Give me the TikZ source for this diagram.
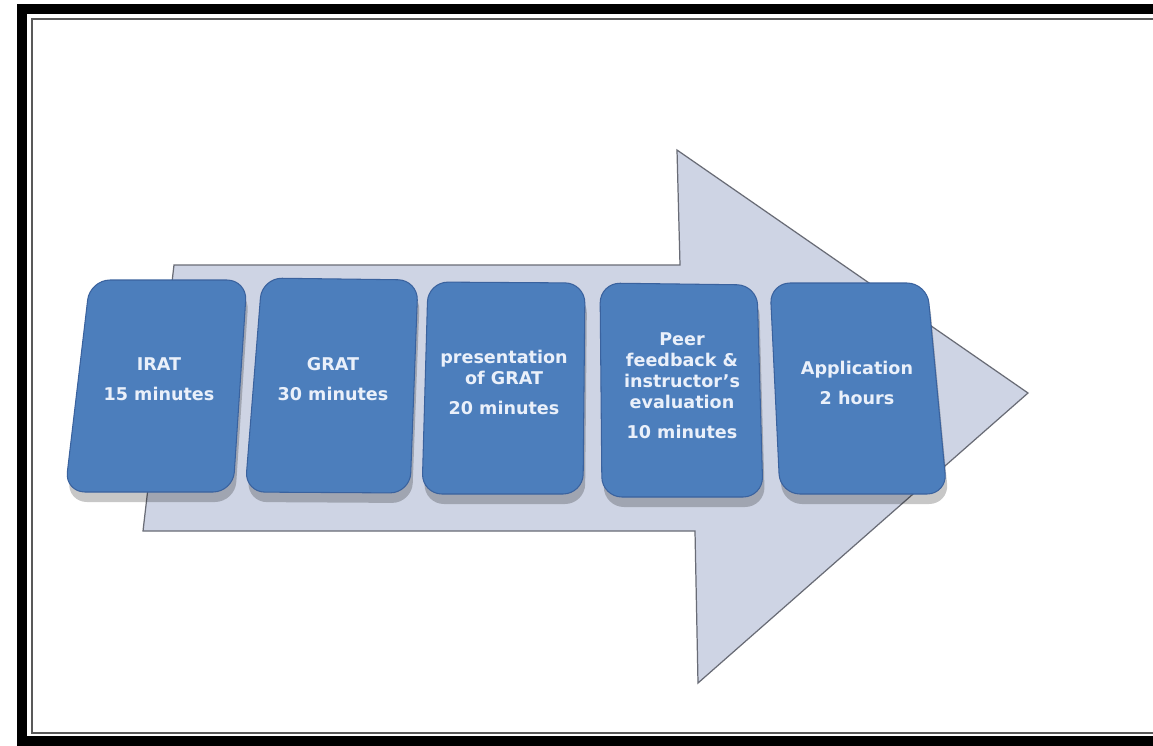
\documentclass[tikz,border=0pt]{standalone}
\usepackage{fontspec}
\setsansfont{DejaVu Sans}
\definecolor{stagefill}{RGB}{76,126,188}
\definecolor{stageedge}{RGB}{58,98,158}
\definecolor{arrowfill}{RGB}{206,212,228}
\definecolor{arrowedge}{RGB}{105,108,118}
\definecolor{stagetext}{RGB}{234,240,250}

\begin{document}
\begin{tikzpicture}[x=0.02cm,y=-0.02cm,
  stage box/.style={fill=stagefill,draw=stageedge,line width=0.6pt,rounded corners=0.4cm},
  stage shadow/.style={fill=black,opacity=0.22,rounded corners=0.4cm},
  stage text/.style={align=center,text=stagetext,font=\sffamily\bfseries\fontsize{10}{12}\selectfont}]

  \clip (0,0) rectangle (1153,745);
  \fill[white] (0,0) rectangle (1153,745);

  \draw[line width=0.19cm] (22,9) rectangle (1175,741);
  \draw[black!65,line width=0.05cm] (32,19) rectangle (1165,733);

  \filldraw[fill=arrowfill,draw=arrowedge,line width=0.7pt,line join=miter]
    (174,265) -- (680,265) -- (677,150) -- (1028,393) -- (698,683)
    -- (695,531) -- (143,531) -- cycle;

  \foreach \tl/\tr/\br/\bl in {{90,280}/{247,280}/{233,492}/{65,492},
      {262,278}/{418,280}/{410,493}/{245,492},
      {428,282}/{585,283}/{583,494}/{422,494},
      {600,283}/{757,285}/{763,497}/{602,497},
      {770,283}/{927,283}/{947,494}/{780,494}}
  {
    \fill[stage shadow,shift={(2,10)}] (\tl) -- (\tr) -- (\br) -- (\bl) -- cycle;
    \filldraw[stage box] (\tl) -- (\tr) -- (\br) -- (\bl) -- cycle;
  }

  \node[stage text] (irat) at (159,379) {IRAT\\[5pt]15 minutes};
  \node[stage text] (grat) at (333,379) {GRAT\\[5pt]30 minutes};
  \node[stage text] (pres) at (504,382) {presentation\\of GRAT\\[5pt]20 minutes};
  \node[stage text] (peer) at (682,386) {Peer\\feedback \&\\instructor's\\evaluation\\[5pt]10 minutes};
  \node[stage text] (appl) at (857,383) {Application\\[5pt]2 hours};
\end{tikzpicture}
\end{document}
